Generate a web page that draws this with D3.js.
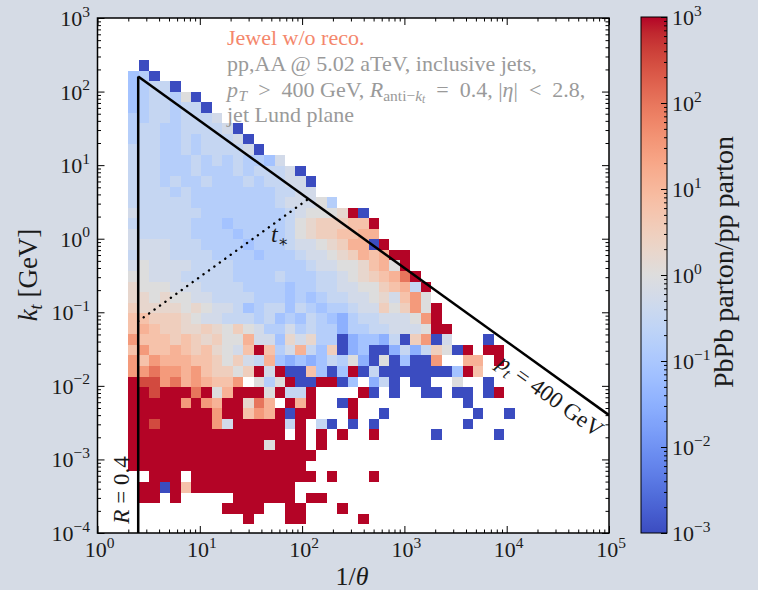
<!DOCTYPE html>
<html>
<head>
<meta charset="utf-8">
<script src="https://cdn.jsdelivr.net/npm/d3@7"></script>
<style>
  html, body { margin: 0; padding: 0; background: #d5dbe5; }
  svg { display: block; font-family: "Liberation Serif", "DejaVu Serif", serif; }
</style>
</head>
<body>
<svg id="chart" width="758" height="590"></svg>
<script>
// ---- Lund-plane binning (log10 edges) ----
const xEdgeStart = 0.301;   // log10(1/theta) at the left edge of column 0
const xBinWidth  = 0.1021;  // log10 width of a 1/theta bin
const yEdgeTop   = 2.429;   // log10(k_t) at the top edge of row 0
const yBinWidth  = 0.1434;  // log10 height of a k_t bin

// ---- cell codes -> log10(PbPb parton / pp parton) ----
const levelCodes  = ["B", "1", "2", "3", "4", "5", "6", "7", "8", "9", "p", "q", "s", "o", "r", "R"];
const levelValues = [-3, -2, -1.5, -1.1, -0.8, -0.5, -0.25, 0, 0.25, 0.5, 0.8, 1.1, 1.5, 2, 2.5, 3];

// ---- ratio map: one string per k_t row (top to bottom), one code per 1/theta bin; "." = empty ----
const ratioRows = [
  ".B",
  "34B",
  "3455B",
  "345547B",
  "3455455B",
  "445545556",
  "4554455556B",
  "45544545556B",
  "555445455556B",
  "555444545454436",
  "5554445444545556B",
  "55545445444545566B",
  "555545444444445566",
  "55555544444444566674",
  "655555544444444567778RB",
  "555555444344444578999ppR",
  "65555544443444457899ppqq",
  "666655544443444566789qqBR",
  "5666555544443444566789qpqRR",
  "67666655554444444566778pq7R",
  "776665555544445444556789pqoR",
  "8777666555544443445566779pq5R",
  "88787766555544434345566786ps7",
  "988887876653455354344566979s7R",
  "pp99987665554534354324556667sR",
  "pqp99889879764464544244556667RR",
  "sppp9p98977q66386844B23325B9sB6...B",
  "psppqp9p876pRp46q539B23BB252597BR.RR",
  "spsqqqpp97965q323235472B7B3BBs..qq.R",
  "ssossqsp9979R6RBBp3B3RB5BBBBBBB3Rp",
  "Rrrsoqsqpps.747RBBRRB3.25B.BB..7..B",
  "RRrRRRoR7qRRR7R55R....RB.B..BB.BB.BR",
  "RRRRRsRsqRR8oq.RqR..BR..........B",
  "RRRRRRRRsRRpsqRBRR...R..B........B..B",
  "RRrRRRRRs6RRRRR5R.5B.B.B........B",
  "RRRRRRRRRRRRRRR.R.R.R..R.....B.....B",
  "RRRRRRRRRRRRR7RRR.R",
  "RRRRRRRRRRRRRRRRRR",
  "RRRRRRRRRRRRRRRRR",
  "..RRR.RRRRRRRRRRRR.R...R",
  ".RRBRpRRRRRRRRRR",
  ".RR.R.....RRRRRR.RR",
  ".........RRRR..RR...R",
  "...........R...RR.....R"
];

// ---- axes ----
const xDomain = [1, 1e5];
const yDomain = [1e-4, 1e3];
const cDomain = [1e-3, 1e3];
const xTickExps = [0, 1, 2, 3, 4, 5];
const yTickExps = [-4, -3, -2, -1, 0, 1, 2, 3];
const cTickExps = [-3, -2, -1, 0, 1, 2, 3];

// ---- reference curves ----
const jetRadius = 0.4;      // anti-k_t R
const ptMin = 400;          // GeV, k_t = pt * theta
const tStarConst = 0.0302;  // GeV, k_t = c / theta (constant formation time)

// matplotlib "coolwarm" control colours
const coolwarmTable = [[59,76,192],[68,90,204],[77,104,215],[87,117,225],[98,130,234],[108,142,241],
  [119,154,247],[130,165,251],[141,176,254],[152,185,255],[163,194,255],[174,201,253],[184,208,249],
  [194,213,244],[204,217,238],[213,219,230],[221,221,221],[229,216,209],[236,211,197],[241,204,185],
  [245,196,173],[247,187,160],[247,177,148],[247,166,135],[244,154,123],[241,141,111],[236,127,99],
  [229,112,88],[222,96,77],[213,80,66],[203,62,56],[192,40,47],[180,4,38]];

function coolwarm(t) {
  t = Math.max(0, Math.min(1, t));
  const p = t * (coolwarmTable.length - 1);
  const i = Math.min(Math.floor(p), coolwarmTable.length - 2);
  const f = p - i;
  const a = coolwarmTable[i], b = coolwarmTable[i + 1];
  return d3.rgb(a[0] + (b[0] - a[0]) * f, a[1] + (b[1] - a[1]) * f, a[2] + (b[2] - a[2]) * f).formatHex();
}

const svg = d3.select("#chart");
const bg = "#d5dbe5";
svg.append("rect").attr("width", 758).attr("height", 590).attr("fill", bg);

const L = 97.5, T = 18, W = 511.5, H = 515;
const x = d3.scaleLog().domain(xDomain).range([L, L + W]);
const y = d3.scaleLog().domain(yDomain).range([T + H, T]);
const cNorm = d3.scaleLog().domain(cDomain).range([0, 1]).clamp(true);

svg.append("defs").append("clipPath").attr("id", "plotClip")
  .append("rect").attr("x", L).attr("y", T).attr("width", W).attr("height", H);

svg.append("rect").attr("x", L).attr("y", T).attr("width", W).attr("height", H).attr("fill", "#ffffff");

// ---- histogram cells ----
const cells = [];
ratioRows.forEach((row, r) => {
  for (let k = 0; k < row.length; k++) {
    const idx = levelCodes.indexOf(row[k]);
    if (idx < 0) continue;
    cells.push({ k, r, ratio: Math.pow(10, levelValues[idx]) });
  }
});

const xEdge = k => x(Math.pow(10, xEdgeStart + k * xBinWidth));
const yEdge = r => y(Math.pow(10, yEdgeTop - r * yBinWidth));

const plot = svg.append("g").attr("clip-path", "url(#plotClip)");
plot.append("g").selectAll("rect").data(cells).join("rect")
  .attr("shape-rendering", "crispEdges")
  .attr("x", d => xEdge(d.k))
  .attr("width", d => xEdge(d.k + 1) - xEdge(d.k))
  .attr("y", d => yEdge(d.r))
  .attr("height", d => yEdge(d.r + 1) - yEdge(d.r))
  .attr("fill", d => coolwarm(cNorm(d.ratio)));

// ---- reference lines ----
const invR = 1 / jetRadius;
const line = d3.line().x(d => x(d[0])).y(d => y(d[1]));
// pt = 400 GeV boundary
plot.append("path").datum([[invR, ptMin / invR], [xDomain[1], ptMin / xDomain[1]]])
  .attr("d", line).attr("fill", "none").attr("stroke", "#000").attr("stroke-width", 2.5);
// R = 0.4 boundary
plot.append("path").datum([[invR, ptMin / invR], [invR, yDomain[0]]])
  .attr("d", line).attr("fill", "none").attr("stroke", "#000").attr("stroke-width", 2.5);
// constant formation time t*
const tStarEnd = Math.sqrt(ptMin / tStarConst);
plot.append("path").datum([[invR, tStarConst * invR], [tStarEnd, tStarConst * tStarEnd]])
  .attr("d", line).attr("fill", "none").attr("stroke", "#000").attr("stroke-width", 2.4)
  .attr("stroke-linecap", "round").attr("stroke-dasharray", "0.1 6.6");

// ---- frame and ticks ----
function decadeMinors(lo, hi) {
  const out = [];
  for (let e = lo; e < hi; e++) for (let m = 2; m <= 9; m++) out.push(m * Math.pow(10, e));
  return out;
}
const xMaj = xTickExps.map(e => Math.pow(10, e));
const yMaj = yTickExps.map(e => Math.pow(10, e));
const xMin = decadeMinors(0, 5);
const yMin = decadeMinors(-4, 3);

function tickAxis(axisFn, scale, vals, size, tx, ty) {
  const g = svg.append("g").attr("transform", `translate(${tx},${ty})`)
    .call(axisFn(scale).tickValues(vals).tickSize(-size).tickFormat(""));
  g.select(".domain").remove();
  g.selectAll(".tick line").attr("stroke", "#000").attr("stroke-width", 1);
}
tickAxis(d3.axisBottom, x, xMaj, 7, 0, T + H);
tickAxis(d3.axisBottom, x, xMin, 3.5, 0, T + H);
tickAxis(d3.axisTop, x, xMaj, 7, 0, T);
tickAxis(d3.axisTop, x, xMin, 3.5, 0, T);
tickAxis(d3.axisLeft, y, yMaj, 7, L, 0);
tickAxis(d3.axisLeft, y, yMin, 3.5, L, 0);
tickAxis(d3.axisRight, y, yMaj, 7, L + W, 0);
tickAxis(d3.axisRight, y, yMin, 3.5, L + W, 0);

svg.append("rect").attr("x", L).attr("y", T).attr("width", W).attr("height", H)
  .attr("fill", "none").attr("stroke", "#000").attr("stroke-width", 1.5);

// ---- rich text helper ----
function rich(sel, parts, baseSize) {
  let cur = 0;
  parts.forEach(p => {
    const shift = p.shift || 0;
    const t = sel.append("tspan").attr("dy", shift - cur).attr("font-size", p.size || baseSize).text(p.t);
    if (p.it) t.attr("font-style", "italic");
    if (p.dx) t.attr("dx", p.dx);
    cur = shift;
  });
  return sel;
}
function pow10Label(e) {
  return [{ t: "10" }, { t: e < 0 ? "\u2212" + (-e) : String(e), size: 15.5, shift: -9.5 }];
}

const tickColor = "#1a1a1a";
xTickExps.forEach(e => {
  rich(svg.append("text").attr("x", x(Math.pow(10, e)) + 2).attr("y", 557).attr("text-anchor", "middle")
    .attr("fill", tickColor), pow10Label(e), 22);
});
yTickExps.forEach(e => {
  rich(svg.append("text").attr("x", 90).attr("y", y(Math.pow(10, e)) + 8).attr("text-anchor", "end")
    .attr("fill", tickColor), pow10Label(e), 22);
});

// axis titles
rich(svg.append("text").attr("x", 352).attr("y", 585).attr("text-anchor", "middle").attr("fill", tickColor),
  [{ t: "1/" }, { t: "θ", it: true }], 26);
rich(svg.append("text").attr("transform", "translate(37,275) rotate(-90)").attr("text-anchor", "middle")
  .attr("fill", tickColor),
  [{ t: "k", it: true }, { t: "t", it: true, size: 18, shift: 5 }, { t: " [GeV]", shift: 0 }], 27);

// ---- annotations ----
const note = svg.append("g").attr("font-size", 22);
note.append("text").attr("x", 227).attr("y", 45).attr("fill", "#f4876c").text("Jewel w/o reco.");
note.append("text").attr("x", 227).attr("y", 71).attr("fill", "#9a9a9a").text("pp,AA @ 5.02 aTeV, inclusive jets,");
rich(note.append("text").attr("x", 227).attr("y", 97).attr("fill", "#9a9a9a"), [
  { t: "p", it: true }, { t: "T", it: true, size: 15.5, shift: 3.5, dx: 0.5 },
  { t: "\u2002>\u2002400 GeV, ", shift: 0 },
  { t: "R", it: true }, { t: "anti\u2212", size: 15.5, shift: 3.5 }, { t: "k", it: true, size: 15.5, shift: 3.5 },
  { t: "t", it: true, size: 11.5, shift: 6 },
  { t: "\u2002=\u20020.4, |", shift: 0 }, { t: "η", it: true }, { t: "|\u2002<\u20022.8,", shift: 0 }
], 22);
note.append("text").attr("x", 227).attr("y", 122).attr("fill", "#9a9a9a").text("jet Lund plane");

rich(svg.append("text").attr("x", 271).attr("y", 242).attr("fill", "#1a1a1a"),
  [{ t: "t", it: true }, { t: "∗", size: 16, shift: 5 }], 24);

rich(svg.append("text").attr("transform", "translate(129,490) rotate(-90)").attr("text-anchor", "middle")
  .attr("fill", "#1a1a1a"),
  [{ t: "R", it: true }, { t: " = 0.4" }], 23);

const slopeDeg = Math.atan2(y(1) - y(10), x(10) - x(1)) * 180 / Math.PI;
rich(svg.append("text").attr("transform", `translate(546,402) rotate(${slopeDeg})`).attr("text-anchor", "middle")
  .attr("dy", "0.35em").attr("fill", "#1a1a1a"),
  [{ t: "p", it: true }, { t: "t", it: true, size: 16, shift: 5 }, { t: " = 400 GeV", shift: 0 }], 23);

// ---- colour bar ----
const cbX = 641, cbY = 17, cbW = 26, cbH = 516;
const cy = d3.scaleLog().domain(cDomain).range([cbY + cbH, cbY]);
const grad = svg.select("defs").append("linearGradient").attr("id", "cbGrad")
  .attr("x1", 0).attr("y1", 1).attr("x2", 0).attr("y2", 0);
d3.range(0, 65).forEach(i => {
  grad.append("stop").attr("offset", i / 64).attr("stop-color", coolwarm(i / 64));
});
svg.append("rect").attr("x", cbX).attr("y", cbY).attr("width", cbW).attr("height", cbH)
  .attr("fill", "url(#cbGrad)");
const cMaj = cTickExps.map(e => Math.pow(10, e));
const cMin = decadeMinors(-3, 3);
tickAxis(d3.axisRight, cy, cMaj, 6, cbX + cbW, 0);
tickAxis(d3.axisRight, cy, cMin, 3, cbX + cbW, 0);
svg.append("rect").attr("x", cbX).attr("y", cbY).attr("width", cbW).attr("height", cbH)
  .attr("fill", "none").attr("stroke", "#000").attr("stroke-width", 1);
cTickExps.forEach(e => {
  rich(svg.append("text").attr("x", cbX + cbW + 5).attr("y", cy(Math.pow(10, e)) + 8)
    .attr("fill", tickColor), pow10Label(e), 22);
});
svg.append("text").attr("transform", "translate(733,262) rotate(-90)")
  .attr("text-anchor", "middle").attr("font-size", 28).attr("fill", tickColor)
  .text("PbPb parton/pp parton");
</script>
</body>
</html>
